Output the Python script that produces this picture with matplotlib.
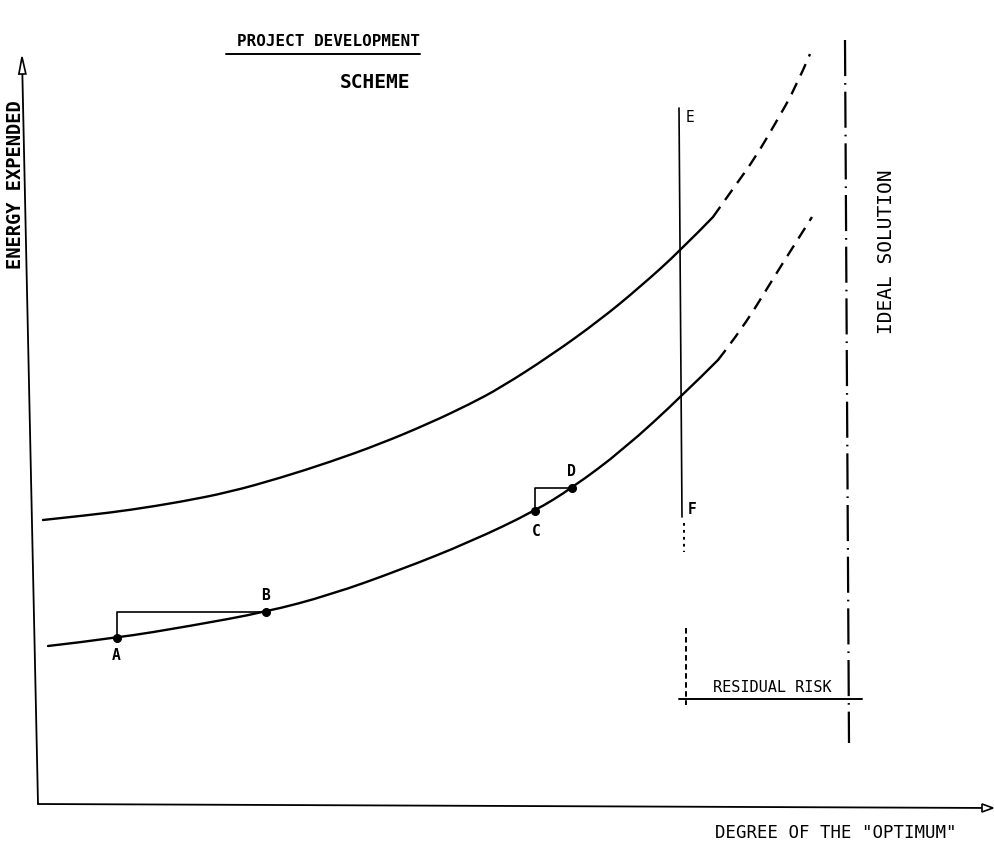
import matplotlib
matplotlib.use("Agg")
import matplotlib.pyplot as plt
from matplotlib.patches import Polygon, PathPatch
from matplotlib.path import Path
import numpy as np

plt.rcParams['lines.scale_dashes'] = False
plt.rcParams['lines.solid_capstyle'] = 'round'

# ---------------- data (x: degree of the optimum, y: energy expended) ----------------
upper_x = [5, 52, 92, 142, 192, 242, 292, 342, 392, 432, 462, 512, 562, 602, 643, 675]
upper_y = [284, 289, 294, 302, 312, 326, 342, 360, 381, 400, 416, 448, 484, 517, 554, 587]
upper_ext_x = [675, 697, 717, 737, 758, 772]
upper_ext_y = [587, 618, 646, 680, 717, 750]

lower_x = [10, 79, 152, 228, 292, 362, 432, 497, 534, 585, 645, 680]
lower_y = [158, 166, 178, 192, 209, 234, 262, 293, 316, 354, 409, 444]
lower_ext_x = [680, 705, 739, 774]
lower_ext_y = [444, 476, 532, 587]

point_labels = ['A', 'B', 'C', 'D']
point_x = [79, 228, 497, 534]
point_y = [166, 192, 293, 316]

ef_x = [641, 644]          # line E-F (top, bottom)
ef_y = [696, 287]
ef_dot_y = [281, 252]
residual_x = [648, 809]    # residual risk: limit E-F  ..  ideal solution
residual_y = 105
ideal_x = [807, 811]
ideal_y = [764, 61]

title = "PROJECT DEVELOPMENT"
subtitle = "SCHEME"
xlabel = 'DEGREE OF THE "OPTIMUM"'
ylabel = "ENERGY EXPENDED"
ideal_label = "IDEAL SOLUTION"
residual_label = "RESIDUAL RISK"

# ---------------- figure ----------------
fig = plt.figure(figsize=(9.94, 8.43), dpi=100)
ax = fig.add_axes([0, 0, 1, 1])
ax.set_xlim(-38, 956)
ax.set_ylim(-39, 804)
ax.axis('off')

K = 'black'
MONO = 'DejaVu Sans Mono'


def arrow_head(tip, base_from, length, width):
    tip = np.asarray(tip, float)
    d = tip - np.asarray(base_from, float)
    d /= np.hypot(*d)
    n = np.array([-d[1], d[0]])
    base = tip - d * length
    pts = [tip, base + n * width / 2, base - n * width / 2]
    ax.add_patch(Polygon(pts, closed=True, fc='white', ec=K, lw=1.2, zorder=5))
    return base


def smooth_curve(xs, ys, **kw):
    pts = list(zip(xs, ys))
    verts = [pts[0]]
    codes = [Path.MOVETO]
    for i in range(1, len(pts) - 1):
        mid = ((pts[i][0] + pts[i + 1][0]) / 2, (pts[i][1] + pts[i + 1][1]) / 2)
        if i == len(pts) - 2:
            mid = pts[-1]
        verts += [pts[i], mid]
        codes += [Path.CURVE3, Path.CURVE3]
    if len(pts) == 2:
        verts.append(pts[1])
        codes.append(Path.LINETO)
    ax.add_patch(PathPatch(Path(verts, codes), fill=False, ec=K, **kw))

# axes
yb = arrow_head((-16, 747), (0, 0), 17, 7)
ax.plot([0, yb[0]], [0, yb[1]], color=K, lw=1.3)
xb = arrow_head((955, -4), (0, 0), 11, 8)
ax.plot([0, xb[0]], [0, xb[1]], color=K, lw=1.3)

# curves
smooth_curve(upper_x, upper_y, lw=1.7, capstyle='round')
smooth_curve(upper_ext_x, upper_ext_y, lw=1.7, ls=(0, (9, 6)))
smooth_curve(lower_x, lower_y, lw=1.7, capstyle='round')
smooth_curve(lower_ext_x, lower_ext_y, lw=1.7, ls=(0, (9, 6)))

# steps A->B, C->D
for i in (0, 2):
    ax.plot([point_x[i], point_x[i], point_x[i + 1]],
            [point_y[i], point_y[i + 1], point_y[i + 1]], color=K, lw=1.2)
ax.plot(point_x, point_y, 'o', color=K, ms=5.5, ls='none', zorder=6)

lab_off = {'A': (-1, -18), 'B': (0, 16), 'C': (1, -21), 'D': (-1, 16)}
for lab, x, y in zip(point_labels, point_x, point_y):
    dx, dy = lab_off[lab]
    ax.text(x + dx, y + dy, lab, ha='center', va='center', family=MONO,
            fontsize=10.5, fontweight='bold')

# limit line E-F
ax.plot(ef_x, ef_y, color=K, lw=1.2)
ax.plot([ef_x[1] + 2, ef_x[1] + 2], ef_dot_y, color=K, lw=1.4, ls=(0, (2, 3)))
ax.text(ef_x[0] + 11, ef_y[0] - 10, 'E', ha='center', va='center', family=MONO,
        fontsize=10.5)
ax.text(ef_x[1] + 10, ef_y[1] + 7, 'F', ha='center', va='center', family=MONO,
        fontsize=10.5, fontweight='bold')

# ideal solution (dash-dot)
ax.plot(ideal_x, ideal_y, color=K, lw=1.6, ls=(0, (26, 5, 1.2, 5)), dash_capstyle='butt')
ax.text(849, 552, ideal_label, rotation=90, ha='center', va='center', family=MONO,
        fontsize=14)

# residual risk
ax.plot([residual_x[0], residual_x[0]], [176, residual_y - 6], color=K, lw=1.4,
        ls=(0, (4, 2.5)))
ax.plot([residual_x[0] - 7, residual_x[1] + 15], [residual_y, residual_y], color=K, lw=1.4)
ax.text((residual_x[0] + residual_x[1]) / 2 + 6, residual_y + 11, residual_label,
        ha='center', va='center', family=MONO, fontsize=11)

# titles & axis labels
ax.text(290, 762, title, ha='center', va='center', family=MONO, fontsize=11.5,
        fontweight='bold')
ax.plot([188, 382], [750, 750], color=K, lw=1.4)
ax.text(337, 722, subtitle, ha='center', va='center', family=MONO, fontsize=14,
        fontweight='bold')
ax.text(-22, 619, ylabel, rotation=90, ha='center', va='center', family=MONO,
        fontsize=13.5, fontweight='bold')
ax.text(798, -29, xlabel, ha='center', va='center', family=MONO, fontsize=12.5)

fig.savefig('out.png', dpi=100)
